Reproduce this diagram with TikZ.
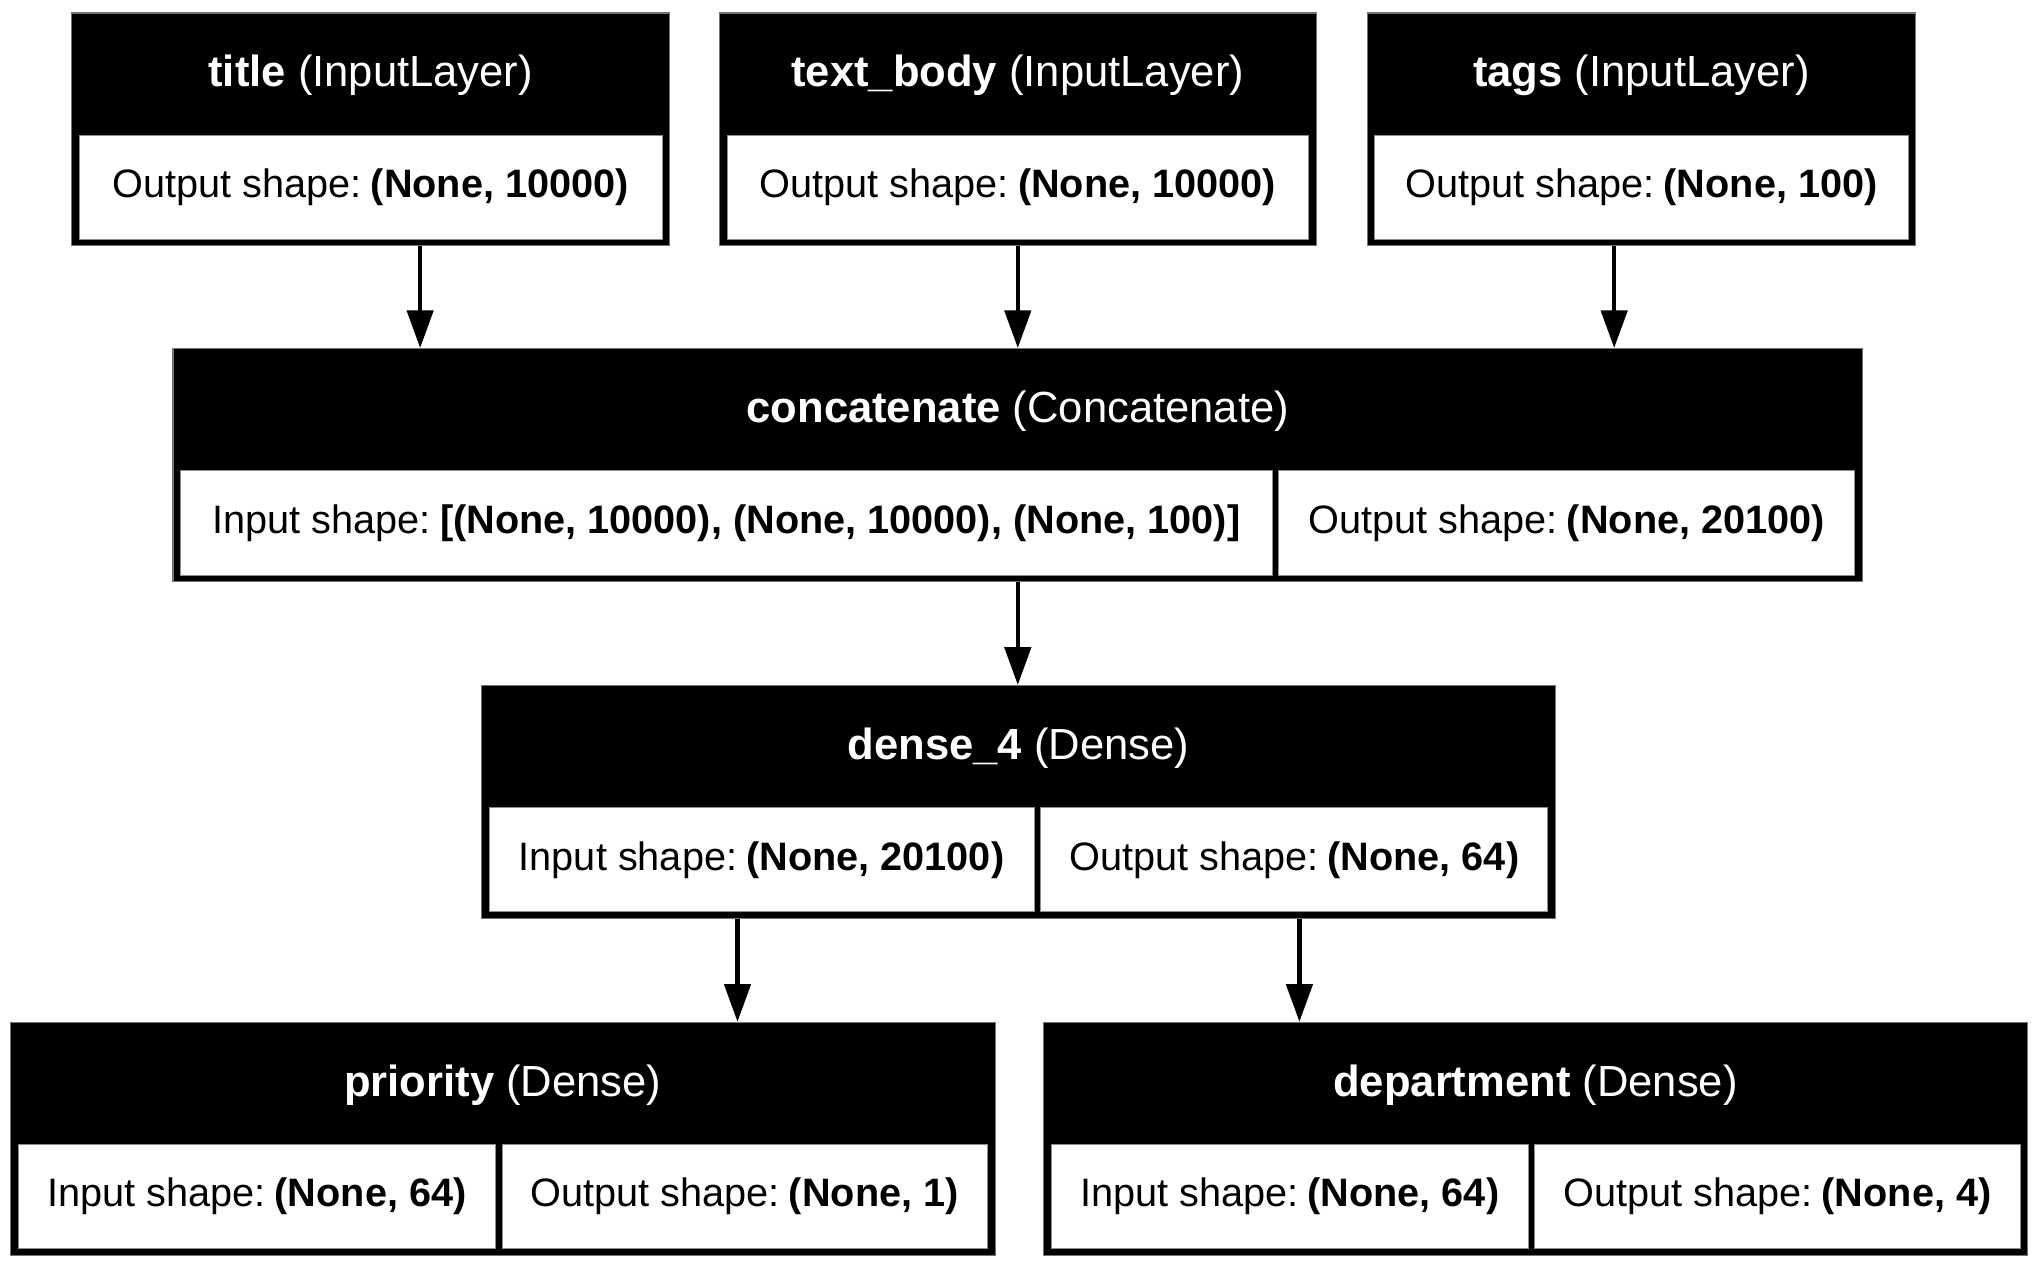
\documentclass[tikz,border=0pt]{standalone}
\usepackage{fontspec}
\setmainfont{Liberation Sans}
\usetikzlibrary{arrows.meta,calc}
\newcommand{\shp}[2]{#1\hspace{0.23em}\textbf{#2}}
\tikzset{
  layer/.style={rectangle, fill=black, draw=black!55, line width=0.8pt, inner sep=0pt, minimum height=179pt},
  cell/.style={rectangle, fill=white, draw=black!45, line width=0.6pt, inner sep=0pt, minimum height=80pt,
               text=black, font=\fontsize{30.5}{36}\selectfont},
  head/.style={text=white, font=\fontsize{33.5}{40}\selectfont, inner sep=0pt},
  arr/.style={line width=3.5pt, -{Triangle[length=29pt,width=20pt]}},
}
\begin{document}
\begin{tikzpicture}[x=1pt,y=-1pt]
\useasboundingbox[fill=white] (0,0) rectangle (1563,975);

% title
\node[layer, minimum width=460pt] (title) at (285,99.5) {};
\node[head] (titleH) at (285,58) {\textbf{title} (InputLayer)};
\node[cell, minimum width=448pt] (titleO) at (285,144) {\shp{Output shape:}{(None, 10000)}};

% text_body
\node[layer, minimum width=459pt] (textbody) at (782.5,99.5) {};
\node[head] (textbodyH) at (782.5,58) {\textbf{text\_body} (InputLayer)};
\node[cell, minimum width=447pt] (textbodyO) at (782.5,144) {\shp{Output shape:}{(None, 10000)}};

% tags
\node[layer, minimum width=422pt] (tags) at (1262,99.5) {};
\node[head] (tagsH) at (1262,58) {\textbf{tags} (InputLayer)};
\node[cell, minimum width=410pt] (tagsO) at (1262,144) {\shp{Output shape:}{(None, 100)}};

% concatenate
\node[layer, minimum width=1299pt] (concat) at (782.5,357.5) {};
\node[head] (concatH) at (782.5,316) {\textbf{concatenate} (Concatenate)};
\node[cell, minimum width=839pt] (concatI) at (558.5,402) {\shp{Input shape:}{[(None, 10000), (None, 10000), (None, 100)]}};
\node[cell, minimum width=443pt] (concatO) at (1204.5,402) {\shp{Output shape:}{(None, 20100)}};

% dense_4
\node[layer, minimum width=826pt] (dense) at (783,616.5) {};
\node[head] (denseH) at (783,575) {\textbf{dense\_4} (Dense)};
\node[cell, minimum width=419pt] (denseI) at (585.5,661) {\shp{Input shape:}{(None, 20100)}};
\node[cell, minimum width=390pt] (denseO) at (995,661) {\shp{Output shape:}{(None, 64)}};

% priority
\node[layer, minimum width=757pt] (priority) at (386.5,875.5) {};
\node[head] (priorityH) at (386.5,834) {\textbf{priority} (Dense)};
\node[cell, minimum width=367pt] (priorityI) at (197.5,920) {\shp{Input shape:}{(None, 64)}};
\node[cell, minimum width=373pt] (priorityO) at (572.5,920) {\shp{Output shape:}{(None, 1)}};

% department
\node[layer, minimum width=757pt] (department) at (1180.5,875.5) {};
\node[head] (departmentH) at (1180.5,834) {\textbf{department} (Dense)};
\node[cell, minimum width=367pt] (departmentI) at (991.5,920) {\shp{Input shape:}{(None, 64)}};
\node[cell, minimum width=373pt] (departmentO) at (1366.5,920) {\shp{Output shape:}{(None, 4)}};

% arrows
\draw[arr] ([xshift=38pt]title.south) -- ([xshift=38pt]title.south |- concat.north);
\draw[arr] (textbody.south) -- (textbody.south |- concat.north);
\draw[arr] ([xshift=-21pt]tags.south) -- ([xshift=-21pt]tags.south |- concat.north);
\draw[arr] (concat.south) -- (concat.south |- dense.north);
\draw[arr] ([xshift=-216pt]dense.south) -- ([xshift=-216pt]dense.south |- priority.north);
\draw[arr] ([xshift=216pt]dense.south) -- ([xshift=216pt]dense.south |- department.north);
\end{tikzpicture}
\end{document}
